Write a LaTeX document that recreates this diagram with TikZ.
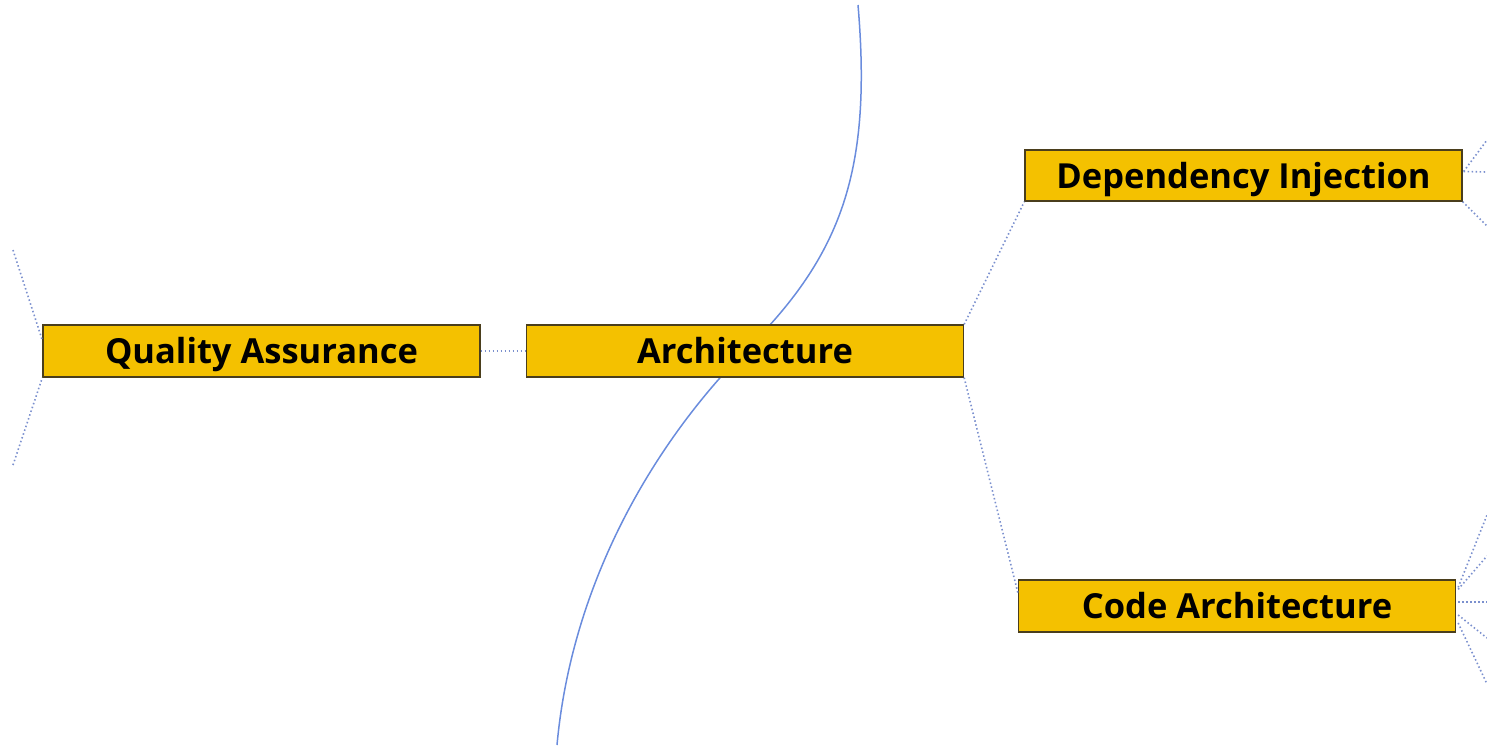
\documentclass[tikz,border=0pt]{standalone}
\usepackage{fontspec}
\setmainfont{Open Sans}
\usetikzlibrary{calc}
\definecolor{boxfill}{HTML}{F4C100}
\definecolor{boxline}{HTML}{4A3E1C}
\definecolor{linkc}{HTML}{7B90CE}
\definecolor{curvec}{HTML}{6A8CDD}
\tikzset{
  topic/.style={draw=boxline, line width=1.3pt, fill=boxfill, minimum width=437pt, minimum height=52pt, inner sep=0pt, text height=29pt, text depth=4pt, font=\fontsize{34.5}{38}\selectfont\bfseries, text=black},
  link/.style={draw=linkc, line width=1.6pt, dash pattern=on 1.5pt off 2.5pt},
  bound/.style={draw=curvec, line width=1.5pt}
}
\begin{document}
\begin{tikzpicture}[x=1pt,y=-1pt]
\useasboundingbox (0,0) rectangle (1487,748);
% boundary curve (behind boxes)
\draw[bound] (858,5) .. controls (872,170) and (842,254) .. (748,348)
  .. controls (656,440) and (572,580) .. (557,745);
% nodes
\node[topic] (QA) at (261.5,351) {Quality Assurance};
\node[topic] (AR) at (745,351) {Architecture};
\node[topic, minimum height=51pt] (DI) at (1243.5,175.5) {Dependency Injection};
\node[topic] (CA) at (1237,606) {Code Architecture};
% free ends
\coordinate (q1) at (13,250);
\coordinate (q2) at (13,465);
\coordinate (d1) at (1487,140);
\coordinate (d2) at (1487,172);
\coordinate (d3) at (1487,226);
\coordinate (c1) at (1487,515);
\coordinate (c2) at (1487,556);
\coordinate (c3) at (1487,602);
\coordinate (c4) at (1487,638);
\coordinate (c5) at (1487,684);
% connectors
\draw[link] (QA.east) -- (AR.west);
\draw[link] (AR.north east) -- (DI.south west);
\draw[link] (AR.south east) -- ($(CA.north west)!0.25!(CA.south west)$);
\draw[link] (q1) -- ($(QA.north west)!0.3!(QA.south west)$);
\draw[link] (q2) -- (QA.south west);
\draw[link] ($(DI.east)+(1,-4)$) -- (d1);
\draw[link] ($(DI.east)+(1,-4)$) -- (d2);
\draw[link] (DI.south east) -- (d3);
\draw[link] ($(CA.north east)+(2,8)$) -- (c1);
\draw[link] ($(CA.north east)+(2,10)$) -- (c2);
\draw[link] ($(CA.east)+(2,-4)$) -- (c3);
\draw[link] ($(CA.east)+(2,9)$) -- (c4);
\draw[link] ($(CA.east)+(2,17)$) -- (c5);
\end{tikzpicture}
\end{document}
